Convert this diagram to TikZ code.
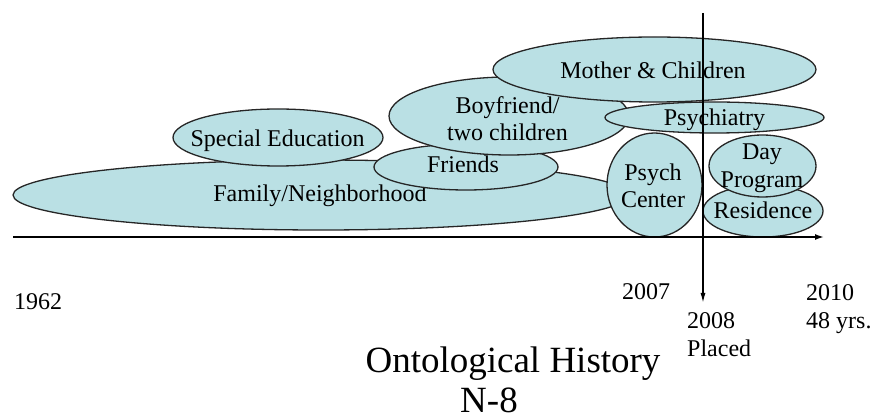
\documentclass[tikz,border=0pt]{standalone}
\usepackage{fontspec}
\setmainfont{Liberation Serif}
\usetikzlibrary{shapes.geometric,arrows.meta}
\definecolor{blobfill}{RGB}{186,224,228}
\begin{document}
\begin{tikzpicture}[x=1pt,y=-1pt,
  blob/.style={ellipse,draw=black!85,line width=1.3pt,fill=blobfill,inner sep=0pt},
  lbl/.style={inner sep=0pt,font=\fontsize{24}{27}\selectfont,align=center},
  yr/.style={inner sep=0pt,font=\fontsize{24}{28.5}\selectfont,align=left,anchor=north west},
  axis/.style={line width=1.6pt,-{Latex[length=9pt,width=6pt]}},
  caption/.style={inner sep=0pt,anchor=base,font=\fontsize{37}{40}\selectfont}]
\useasboundingbox (0,0) rectangle (876,419);

% life domains, back to front
\node[blob,minimum width=616pt,minimum height=70pt] (fam) at (321,195) {};
\node[lbl,anchor=base] (famt) at (320,202) {Family/Neighborhood};

\node[blob,minimum width=210pt,minimum height=57pt] (sped) at (278,137.5) {};
\node[lbl,anchor=base] (spedt) at (277.5,147) {Special Education};

\node[blob,minimum width=184pt,minimum height=46pt] (fr) at (466,167) {};
\node[lbl,anchor=base] (frt) at (463,173) {Friends};

\node[blob,minimum width=240pt,minimum height=78pt] (bf) at (509,116) {};
\node[lbl,anchor=north] (bft) at (507.5,96.5) {Boyfriend/\\two children};

\node[blob,minimum width=323pt,minimum height=65pt] (mc) at (654.5,69.5) {};
\node[lbl,anchor=base] (mct) at (653,79) {Mother \& Children};

\node[blob,minimum width=219pt,minimum height=31pt] (psy) at (714.5,117.5) {};
\node[lbl,anchor=base] (psyt) at (714.5,126) {Psychiatry};

\node[blob,minimum width=95pt,minimum height=104pt] (pc) at (654.5,185) {};
\node[lbl,anchor=north] (pct) at (653,164) {Psych\\Center};

\node[blob,minimum width=120pt,minimum height=52pt] (res) at (763,211) {};
\node[lbl,anchor=base] (rest) at (763,218.5) {Residence};

\node[blob,minimum width=107pt,minimum height=62pt] (dp) at (762.5,166) {};
\node[lbl,anchor=north,font=\fontsize{24}{28}\selectfont] (dpt) at (762,143.5) {Day\\Program};

% time axis and placement marker
\coordinate (a0) at (13,237);
\coordinate (a1) at (824,237);
\draw[axis] (a0) -- (a1);
\coordinate (p0) at (703,13);
\coordinate (p1) at (703,303);
\draw[line width=1.4pt,-{Latex[length=10pt,width=5pt]}] (p0) -- (p1);

% years
\node[lbl,anchor=base west] (y62) at (14,310) {1962};
\node[lbl,anchor=base west] (y07) at (622,300) {2007};
\node[yr] (y08) at (687,312) {2008\\Placed};
\node[yr] (y10) at (806,284) {2010\\48 yrs.};

% caption
\node[caption] (ttl) at (513,373) {Ontological History};
\node[caption] (code) at (489,413) {N-8};
\end{tikzpicture}
\end{document}
